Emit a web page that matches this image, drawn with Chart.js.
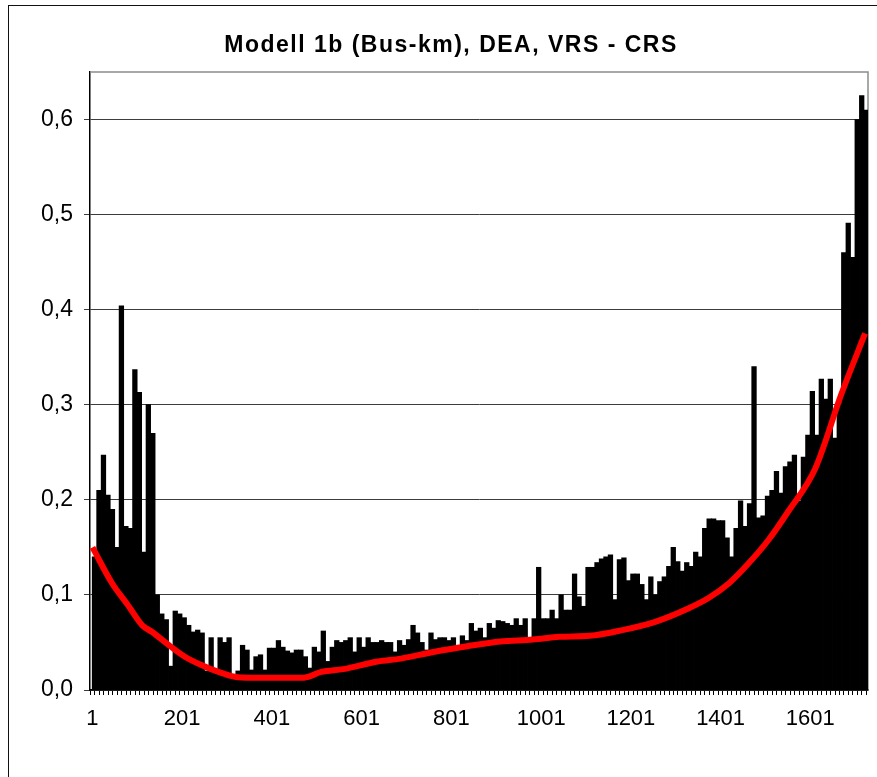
<!DOCTYPE html>
<html><head><meta charset="utf-8">
<script src="https://cdn.jsdelivr.net/npm/chart.js@4.4.0/dist/chart.umd.min.js"></script>
<style>
html,body{margin:0;padding:0;background:#fff;}
#wrap{position:relative;width:877px;height:777px;overflow:hidden;background:#fff;}
#frame{position:absolute;left:7.5px;top:5px;width:900px;height:900px;border:1.5px solid #111;box-sizing:border-box;}
#c{position:absolute;left:0;top:0;}
</style></head><body>
<div id="wrap"><div id="frame"></div><canvas id="c" width="877" height="777"></canvas></div>
<script>
const TITLE = 'Modell 1b (Bus-km), DEA, VRS - CRS';
const FIRST_CATEGORY = 1;
const LAST_CATEGORY = 1724;
const BIN_SIZE = 10;           // each bar below stands for 10 consecutive categories
const binValues = [
0.14,0.21,0.247,0.205,0.19,0.15,0.404,0.172,0.17,0.337,
0.313,0.145,0.30,0.27,0.10,0.08,0.074,0.025,0.083,0.08,
0.076,0.068,0.061,0.063,0.06,0.02,0.055,0.02,0.055,0.05,
0.055,0.014,0.02,0.047,0.042,0.021,0.035,0.037,0.021,0.044,
0.044,0.052,0.045,0.041,0.039,0.042,0.042,0.035,0.023,0.045,
0.04,0.062,0.03,0.045,0.052,0.05,0.052,0.055,0.04,0.055,
0.045,0.055,0.05,0.05,0.052,0.05,0.05,0.04,0.052,0.047,
0.053,0.068,0.06,0.05,0.042,0.06,0.053,0.055,0.055,0.052,
0.055,0.042,0.057,0.052,0.07,0.062,0.065,0.055,0.07,0.065,
0.073,0.072,0.07,0.068,0.075,0.068,0.075,0.055,0.075,0.129,
0.075,0.075,0.084,0.075,0.1,0.084,0.084,0.122,0.098,0.088,
0.129,0.129,0.134,0.138,0.14,0.142,0.095,0.137,0.139,0.115,
0.122,0.122,0.111,0.095,0.119,0.1,0.114,0.119,0.13,0.15,
0.135,0.125,0.134,0.13,0.145,0.14,0.17,0.18,0.18,0.178,
0.178,0.16,0.14,0.17,0.199,0.172,0.196,0.34,0.181,0.183,
0.204,0.21,0.23,0.207,0.235,0.24,0.247,0.199,0.245,0.268,
0.314,0.268,0.327,0.306,0.327,0.265,0.3,0.46,0.491,0.455,
0.6,0.625,0.61
];
const trendCategories = [1,45,79,112,134,172,207,245,282,318,355,415,473,511,560,637,688,761,836,910,983,1042,1109,1182,1257,1330,1375,1419,1463,1508,1552,1612,1670,1723];
const trendValues = [0.15,0.112,0.09,0.068,0.061,0.047,0.035,0.026,0.019,0.014,0.013,0.013,0.013,0.019,0.022,0.03,0.033,0.04,0.046,0.051,0.053,0.056,0.057,0.063,0.072,0.086,0.097,0.112,0.133,0.158,0.188,0.233,0.311,0.375];
const xTickLabels = [1,201,401,601,801,1001,1201,1401,1601];
const yTicks = [0,0.1,0.2,0.3,0.4,0.5,0.6];
const Y_MAX = 0.65;

const barData = binValues.map((v, i) => ({x: FIRST_CATEGORY + i * BIN_SIZE + (BIN_SIZE - 1) / 2, y: v}));
const trendData = trendCategories.map((c, i) => ({x: c, y: trendValues[i]}));
const xMarkTicks = [];
for (let c = FIRST_CATEGORY; c <= LAST_CATEGORY; c += BIN_SIZE) xMarkTicks.push(c);

const FONT = "'Liberation Sans', Arial, sans-serif";
Chart.defaults.font.family = FONT;
Chart.defaults.color = '#000';

const plotFrame = {
  id: 'plotFrame',
  beforeDatasetsDraw(chart) {
    const a = chart.chartArea, ctx = chart.ctx;
    ctx.save();
    ctx.strokeStyle = '#8c8c8c';
    ctx.lineWidth = 1.5;
    ctx.beginPath();
    ctx.moveTo(a.left, a.top); ctx.lineTo(a.right, a.top); ctx.lineTo(a.right, a.bottom);
    ctx.stroke();
    ctx.restore();
  }
};

const excelTitle = {
  id: 'excelTitle',
  afterDraw(chart) {
    const ctx = chart.ctx;
    ctx.save();
    ctx.font = 'bold 23px ' + FONT;
    if ('letterSpacing' in ctx) ctx.letterSpacing = '1.5px';
    ctx.fillStyle = '#000';
    ctx.textAlign = 'center';
    ctx.textBaseline = 'middle';
    ctx.fillText(TITLE, 451, 46);
    ctx.restore();
  }
};

new Chart(document.getElementById('c'), {
  type: 'bar',
  data: {
    datasets: [
      {type: 'line', data: trendData, borderColor: '#ff0000', borderWidth: 6, pointRadius: 0,
       cubicInterpolationMode: 'monotone', fill: false, order: 0},
      {type: 'bar', data: barData, backgroundColor: '#000', borderWidth: 0,
       barPercentage: 1, categoryPercentage: 1, inflateAmount: 0.4, order: 1}
    ]
  },
  options: {
    responsive: false, animation: false, devicePixelRatio: 1, events: [],
    layout: {padding: {left: 0, right: 9, top: 72, bottom: 0}},
    plugins: {
      legend: {display: false}, tooltip: {enabled: false}, title: {display: false}
    },
    scales: {
      x: {
        type: 'linear', min: FIRST_CATEGORY - 0.5, max: LAST_CATEGORY + 0.5,
        afterBuildTicks: s => { s.ticks = xMarkTicks.map(v => ({value: v})); },
        afterFit: s => { s.height = 87; },
        ticks: {autoSkip: false, maxRotation: 0, padding: 11, font: {size: 22},
          callback: v => xTickLabels.includes(v) ? String(v) : ''},
        grid: {drawOnChartArea: false, drawTicks: true, tickLength: 5, color: '#000', lineWidth: 1},
        border: {display: true, color: '#000', width: 1.5}
      },
      y: {
        min: 0, max: Y_MAX,
        afterBuildTicks: s => { s.ticks = yTicks.map(v => ({value: v})); },
        afterFit: s => { s.width = 90; },
        ticks: {padding: 11, font: {size: 23}, callback: v => v.toFixed(1).replace('.', ',')},
        grid: {color: '#3c3c3c', lineWidth: 1, tickLength: 6, drawTicks: true},
        border: {display: true, color: '#000', width: 1.5}
      }
    }
  },
  plugins: [plotFrame, excelTitle]
});
</script>
</body></html>
